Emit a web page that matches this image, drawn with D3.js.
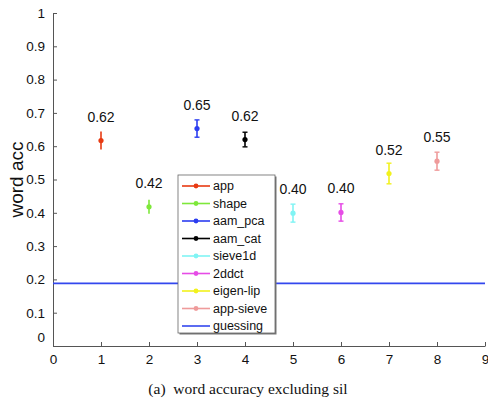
<!DOCTYPE html>
<html>
<head>
<meta charset="utf-8">
<script src="https://cdn.jsdelivr.net/npm/d3@7"></script>
<style>
  body { margin: 0; background: #fff; }
  svg { display: block; font-family: "Liberation Sans", Arial, sans-serif; }
</style>
</head>
<body>
<div id="chart"></div>
<script>
const methods = ["app", "shape", "aam_pca", "aam_cat", "sieve1d", "2ddct", "eigen-lip", "app-sieve"];
const xPos = [1, 2, 3, 4, 5, 6, 7, 8];
const accuracy = [0.617, 0.418, 0.653, 0.620, 0.399, 0.401, 0.518, 0.555];
const errors = [0.027, 0.021, 0.026, 0.022, 0.027, 0.026, 0.031, 0.027];
const valueLabels = ["0.62", "0.42", "0.65", "0.62", "0.40", "0.40", "0.52", "0.55"];
const colors = ["#e83a12", "#7ee83a", "#2b3df0", "#000000", "#80f4f4", "#e64ce6", "#f2f21c", "#ef9b9b"];
const guessing = 0.188;
const guessColor = "#3347ee";
const xTicks = [0, 1, 2, 3, 4, 5, 6, 7, 8, 9];
const yTicks = [0, 0.1, 0.2, 0.3, 0.4, 0.5, 0.6, 0.7, 0.8, 0.9, 1];

const width = 488;
const height = 398;
const margin = { left: 53, right: 3, top: 13, bottom: 52 };

const svg = d3
  .select("#chart")
  .append("svg")
  .attr("width", width)
  .attr("height", height);

const x = d3.scaleLinear().domain([0, 9]).range([margin.left, width - margin.right]);
const y = d3.scaleLinear().domain([0, 1]).range([height - margin.bottom, margin.top]);

// axes, ticks pointing inward like matlab
const xAxis = svg
  .append("g")
  .attr("transform", `translate(0, ${y(0)})`)
  .call(d3.axisBottom(x).tickValues(xTicks).tickFormat(d3.format("d")).tickSizeInner(-4).tickSizeOuter(0).tickPadding(8));

const yAxis = svg
  .append("g")
  .attr("transform", `translate(${x(0)}, 0)`)
  .call(d3.axisLeft(y).tickValues(yTicks).tickFormat((d) => (d === 0 || d === 1 ? d3.format("d")(d) : d3.format(".1f")(d))).tickSizeInner(-4).tickSizeOuter(0).tickPadding(8));

[xAxis, yAxis].forEach((g) => {
  g.selectAll("path, line").attr("stroke", "#555");
  g.selectAll("text").attr("fill", "#111").style("font-size", "13.5px");
});
yAxis.selectAll(".tick text").filter((d) => d === 0).attr("dy", "-0.35em");

// guessing line
svg
  .append("line")
  .attr("x1", x(0))
  .attr("x2", x(9))
  .attr("y1", y(guessing))
  .attr("y2", y(guessing))
  .attr("stroke", guessColor)
  .attr("stroke-width", 1.6);

// error bars (app and shape were drawn without caps)
const noCaps = ["app", "shape"];
const pts = svg
  .selectAll(".pt")
  .data(methods)
  .enter()
  .append("g")
  .attr("class", "pt");

pts
  .append("line")
  .attr("x1", (d, i) => x(xPos[i]))
  .attr("x2", (d, i) => x(xPos[i]))
  .attr("y1", (d, i) => y(accuracy[i] - errors[i]))
  .attr("y2", (d, i) => y(accuracy[i] + errors[i]))
  .attr("stroke", (d, i) => colors[i])
  .attr("stroke-width", 1.6);

[-1, 1].forEach((s) => {
  pts
    .filter((d) => !noCaps.includes(d))
    .append("line")
    .attr("x1", (d) => x(xPos[methods.indexOf(d)]) - 2.5)
    .attr("x2", (d) => x(xPos[methods.indexOf(d)]) + 2.5)
    .attr("y1", (d) => y(accuracy[methods.indexOf(d)] + s * errors[methods.indexOf(d)]))
    .attr("y2", (d) => y(accuracy[methods.indexOf(d)] + s * errors[methods.indexOf(d)]))
    .attr("stroke", (d) => colors[methods.indexOf(d)])
    .attr("stroke-width", 1.4);
});

pts
  .append("circle")
  .attr("cx", (d, i) => x(xPos[i]))
  .attr("cy", (d, i) => y(accuracy[i]))
  .attr("r", 2.6)
  .attr("fill", (d, i) => colors[i]);

pts
  .append("text")
  .attr("x", (d, i) => x(xPos[i]))
  .attr("y", (d, i) => y(accuracy[i]) - 19)
  .attr("text-anchor", "middle")
  .style("font-size", "14px")
  .attr("fill", "#111")
  .text((d, i) => valueLabels[i]);

// legend
const legendItems = methods.map((m, i) => ({ name: m, color: colors[i], dot: true }));
legendItems.push({ name: "guessing", color: guessColor, dot: false });

const legend = svg.append("g").attr("transform", "translate(178, 175)");
legend
  .append("rect")
  .attr("x", 1.5)
  .attr("y", 1.5)
  .attr("width", 97)
  .attr("height", 158)
  .attr("fill", "#777");
legend
  .append("rect")
  .attr("x", 0)
  .attr("y", 0)
  .attr("width", 97)
  .attr("height", 158)
  .attr("fill", "#fff")
  .attr("stroke", "#666")
  .attr("stroke-width", 0.8);

const li = legend
  .selectAll(".li")
  .data(legendItems)
  .enter()
  .append("g")
  .attr("transform", (d, i) => `translate(0, ${11 + i * 17.5})`);

li.append("line")
  .attr("x1", 4)
  .attr("x2", 32)
  .attr("stroke", (d) => d.color)
  .attr("stroke-width", 1.6);
li.filter((d) => d.dot)
  .append("circle")
  .attr("cx", 18)
  .attr("r", 2.4)
  .attr("fill", (d) => d.color);
li.append("text")
  .attr("x", 35)
  .attr("dy", "0.35em")
  .style("font-size", "12.5px")
  .attr("fill", "#111")
  .text((d) => d.name);

// y label
svg
  .append("text")
  .attr("transform", `translate(23, ${y(0.5)}) rotate(-90)`)
  .attr("text-anchor", "middle")
  .style("font-size", "19px")
  .attr("fill", "#111")
  .text("word acc");

// caption
svg
  .append("text")
  .attr("x", 248)
  .attr("y", 394)
  .attr("text-anchor", "middle")
  .style("font-family", "'Liberation Serif', 'Times New Roman', serif")
  .style("font-size", "15.5px")
  .attr("fill", "#111")
  .attr("xml:space", "preserve")
  .text("(a)  word accuracy excluding sil");
</script>
</body>
</html>
